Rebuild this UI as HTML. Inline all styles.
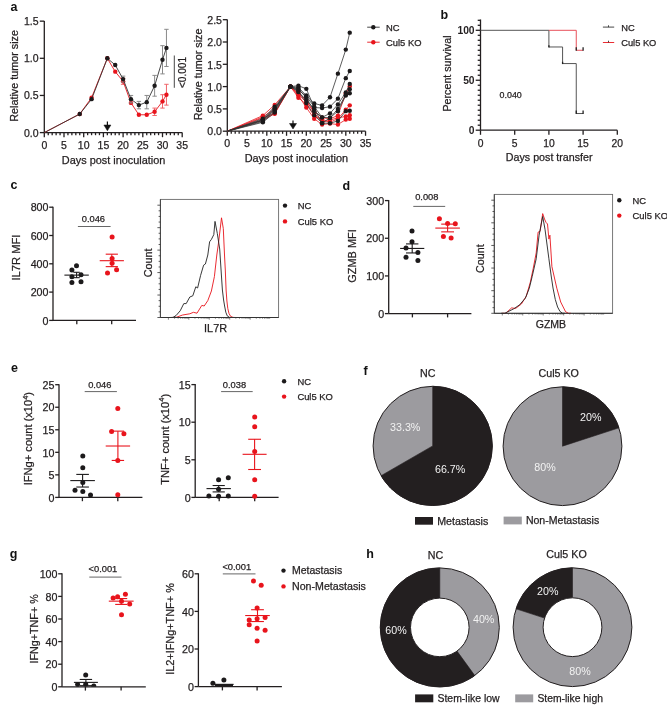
<!DOCTYPE html>
<html><head><meta charset="utf-8"><style>
html,body{margin:0;padding:0;background:#fff;}
svg{display:block;font-family:"Liberation Sans", sans-serif;will-change:transform;}
</style></head><body>
<svg width="667" height="712" viewBox="0 0 667 712">
<rect width="667" height="712" fill="#fff"/>
<text x="10.60" y="11.30" font-size="12.5" text-anchor="start" font-weight="bold" fill="#111">a</text>
<line x1="44.30" y1="21.00" x2="44.30" y2="132.60" stroke="#231f20" stroke-width="1.3"/>
<line x1="39.80" y1="132.60" x2="44.30" y2="132.60" stroke="#231f20" stroke-width="1.3"/>
<text x="38.60" y="136.60" font-size="10.5" text-anchor="end" font-weight="normal" fill="#231f20" stroke="#231f20" stroke-width="0.25">0.0</text>
<line x1="39.80" y1="95.45" x2="44.30" y2="95.45" stroke="#231f20" stroke-width="1.3"/>
<text x="38.60" y="99.45" font-size="10.5" text-anchor="end" font-weight="normal" fill="#231f20" stroke="#231f20" stroke-width="0.25">0.5</text>
<line x1="39.80" y1="58.30" x2="44.30" y2="58.30" stroke="#231f20" stroke-width="1.3"/>
<text x="38.60" y="62.30" font-size="10.5" text-anchor="end" font-weight="normal" fill="#231f20" stroke="#231f20" stroke-width="0.25">1.0</text>
<line x1="39.80" y1="21.15" x2="44.30" y2="21.15" stroke="#231f20" stroke-width="1.3"/>
<text x="38.60" y="25.15" font-size="10.5" text-anchor="end" font-weight="normal" fill="#231f20" stroke="#231f20" stroke-width="0.25">1.5</text>
<line x1="44.30" y1="132.60" x2="182.20" y2="132.60" stroke="#231f20" stroke-width="1.3"/>
<line x1="44.30" y1="132.60" x2="44.30" y2="137.20" stroke="#231f20" stroke-width="1.3"/>
<text x="44.30" y="148.80" font-size="10.5" text-anchor="middle" font-weight="normal" fill="#231f20" stroke="#231f20" stroke-width="0.25">0</text>
<line x1="48.24" y1="132.60" x2="48.24" y2="135.20" stroke="#231f20" stroke-width="1.3"/>
<line x1="52.18" y1="132.60" x2="52.18" y2="135.20" stroke="#231f20" stroke-width="1.3"/>
<line x1="56.12" y1="132.60" x2="56.12" y2="135.20" stroke="#231f20" stroke-width="1.3"/>
<line x1="60.06" y1="132.60" x2="60.06" y2="135.20" stroke="#231f20" stroke-width="1.3"/>
<line x1="64.00" y1="132.60" x2="64.00" y2="137.20" stroke="#231f20" stroke-width="1.3"/>
<text x="64.00" y="148.80" font-size="10.5" text-anchor="middle" font-weight="normal" fill="#231f20" stroke="#231f20" stroke-width="0.25">5</text>
<line x1="67.94" y1="132.60" x2="67.94" y2="135.20" stroke="#231f20" stroke-width="1.3"/>
<line x1="71.88" y1="132.60" x2="71.88" y2="135.20" stroke="#231f20" stroke-width="1.3"/>
<line x1="75.82" y1="132.60" x2="75.82" y2="135.20" stroke="#231f20" stroke-width="1.3"/>
<line x1="79.76" y1="132.60" x2="79.76" y2="135.20" stroke="#231f20" stroke-width="1.3"/>
<line x1="83.70" y1="132.60" x2="83.70" y2="137.20" stroke="#231f20" stroke-width="1.3"/>
<text x="83.70" y="148.80" font-size="10.5" text-anchor="middle" font-weight="normal" fill="#231f20" stroke="#231f20" stroke-width="0.25">10</text>
<line x1="87.64" y1="132.60" x2="87.64" y2="135.20" stroke="#231f20" stroke-width="1.3"/>
<line x1="91.58" y1="132.60" x2="91.58" y2="135.20" stroke="#231f20" stroke-width="1.3"/>
<line x1="95.52" y1="132.60" x2="95.52" y2="135.20" stroke="#231f20" stroke-width="1.3"/>
<line x1="99.46" y1="132.60" x2="99.46" y2="135.20" stroke="#231f20" stroke-width="1.3"/>
<line x1="103.40" y1="132.60" x2="103.40" y2="137.20" stroke="#231f20" stroke-width="1.3"/>
<text x="103.40" y="148.80" font-size="10.5" text-anchor="middle" font-weight="normal" fill="#231f20" stroke="#231f20" stroke-width="0.25">15</text>
<line x1="107.34" y1="132.60" x2="107.34" y2="135.20" stroke="#231f20" stroke-width="1.3"/>
<line x1="111.28" y1="132.60" x2="111.28" y2="135.20" stroke="#231f20" stroke-width="1.3"/>
<line x1="115.22" y1="132.60" x2="115.22" y2="135.20" stroke="#231f20" stroke-width="1.3"/>
<line x1="119.16" y1="132.60" x2="119.16" y2="135.20" stroke="#231f20" stroke-width="1.3"/>
<line x1="123.10" y1="132.60" x2="123.10" y2="137.20" stroke="#231f20" stroke-width="1.3"/>
<text x="123.10" y="148.80" font-size="10.5" text-anchor="middle" font-weight="normal" fill="#231f20" stroke="#231f20" stroke-width="0.25">20</text>
<line x1="127.04" y1="132.60" x2="127.04" y2="135.20" stroke="#231f20" stroke-width="1.3"/>
<line x1="130.98" y1="132.60" x2="130.98" y2="135.20" stroke="#231f20" stroke-width="1.3"/>
<line x1="134.92" y1="132.60" x2="134.92" y2="135.20" stroke="#231f20" stroke-width="1.3"/>
<line x1="138.86" y1="132.60" x2="138.86" y2="135.20" stroke="#231f20" stroke-width="1.3"/>
<line x1="142.80" y1="132.60" x2="142.80" y2="137.20" stroke="#231f20" stroke-width="1.3"/>
<text x="142.80" y="148.80" font-size="10.5" text-anchor="middle" font-weight="normal" fill="#231f20" stroke="#231f20" stroke-width="0.25">25</text>
<line x1="146.74" y1="132.60" x2="146.74" y2="135.20" stroke="#231f20" stroke-width="1.3"/>
<line x1="150.68" y1="132.60" x2="150.68" y2="135.20" stroke="#231f20" stroke-width="1.3"/>
<line x1="154.62" y1="132.60" x2="154.62" y2="135.20" stroke="#231f20" stroke-width="1.3"/>
<line x1="158.56" y1="132.60" x2="158.56" y2="135.20" stroke="#231f20" stroke-width="1.3"/>
<line x1="162.50" y1="132.60" x2="162.50" y2="137.20" stroke="#231f20" stroke-width="1.3"/>
<text x="162.50" y="148.80" font-size="10.5" text-anchor="middle" font-weight="normal" fill="#231f20" stroke="#231f20" stroke-width="0.25">30</text>
<line x1="166.44" y1="132.60" x2="166.44" y2="135.20" stroke="#231f20" stroke-width="1.3"/>
<line x1="170.38" y1="132.60" x2="170.38" y2="135.20" stroke="#231f20" stroke-width="1.3"/>
<line x1="174.32" y1="132.60" x2="174.32" y2="135.20" stroke="#231f20" stroke-width="1.3"/>
<line x1="178.26" y1="132.60" x2="178.26" y2="135.20" stroke="#231f20" stroke-width="1.3"/>
<line x1="182.20" y1="132.60" x2="182.20" y2="137.20" stroke="#231f20" stroke-width="1.3"/>
<text x="182.20" y="148.80" font-size="10.5" text-anchor="middle" font-weight="normal" fill="#231f20" stroke="#231f20" stroke-width="0.25">35</text>
<text x="113.60" y="163.60" font-size="10.9" text-anchor="middle" font-weight="normal" fill="#231f20" stroke="#231f20" stroke-width="0.25">Days post inoculation</text>
<text x="18.30" y="75.90" font-size="10.8" text-anchor="middle" font-weight="normal" fill="#231f20" stroke="#231f20" stroke-width="0.25" transform="rotate(-90 18.3 75.9)">Relative tumor size</text>
<line x1="123.10" y1="78.36" x2="123.10" y2="84.30" stroke="#f0646a" stroke-width="1.0"/>
<line x1="120.90" y1="78.36" x2="125.30" y2="78.36" stroke="#f0646a" stroke-width="1.0"/>
<line x1="120.90" y1="84.30" x2="125.30" y2="84.30" stroke="#f0646a" stroke-width="1.0"/>
<line x1="154.62" y1="108.08" x2="154.62" y2="115.51" stroke="#f0646a" stroke-width="1.0"/>
<line x1="152.42" y1="108.08" x2="156.82" y2="108.08" stroke="#f0646a" stroke-width="1.0"/>
<line x1="152.42" y1="115.51" x2="156.82" y2="115.51" stroke="#f0646a" stroke-width="1.0"/>
<line x1="162.50" y1="94.71" x2="162.50" y2="108.08" stroke="#f0646a" stroke-width="1.0"/>
<line x1="160.30" y1="94.71" x2="164.70" y2="94.71" stroke="#f0646a" stroke-width="1.0"/>
<line x1="160.30" y1="108.08" x2="164.70" y2="108.08" stroke="#f0646a" stroke-width="1.0"/>
<line x1="166.44" y1="84.30" x2="166.44" y2="105.11" stroke="#f0646a" stroke-width="1.0"/>
<line x1="164.24" y1="84.30" x2="168.64" y2="84.30" stroke="#f0646a" stroke-width="1.0"/>
<line x1="164.24" y1="105.11" x2="168.64" y2="105.11" stroke="#f0646a" stroke-width="1.0"/>
<path d="M44.30,132.60 L79.76,114.02 L91.58,97.68 L107.34,58.30 L115.22,71.67 L123.10,81.33 L130.98,102.88 L138.86,114.77 L146.74,114.77 L154.62,111.80 L162.50,101.39 L166.44,94.71" stroke="#e8141c" stroke-width="0.9" fill="none"/>
<circle cx="79.76" cy="114.02" r="2.2" fill="#e8141c"/>
<circle cx="91.58" cy="97.68" r="2.2" fill="#e8141c"/>
<circle cx="107.34" cy="58.30" r="2.2" fill="#e8141c"/>
<circle cx="115.22" cy="71.67" r="2.2" fill="#e8141c"/>
<circle cx="123.10" cy="81.33" r="2.2" fill="#e8141c"/>
<circle cx="130.98" cy="102.88" r="2.2" fill="#e8141c"/>
<circle cx="138.86" cy="114.77" r="2.2" fill="#e8141c"/>
<circle cx="146.74" cy="114.77" r="2.2" fill="#e8141c"/>
<circle cx="154.62" cy="111.80" r="2.2" fill="#e8141c"/>
<circle cx="162.50" cy="101.39" r="2.2" fill="#e8141c"/>
<circle cx="166.44" cy="94.71" r="2.2" fill="#e8141c"/>
<line x1="123.10" y1="76.13" x2="123.10" y2="82.08" stroke="#8a8a8a" stroke-width="1.0"/>
<line x1="120.90" y1="76.13" x2="125.30" y2="76.13" stroke="#8a8a8a" stroke-width="1.0"/>
<line x1="120.90" y1="82.08" x2="125.30" y2="82.08" stroke="#8a8a8a" stroke-width="1.0"/>
<line x1="130.98" y1="95.45" x2="130.98" y2="102.88" stroke="#8a8a8a" stroke-width="1.0"/>
<line x1="128.78" y1="95.45" x2="133.18" y2="95.45" stroke="#8a8a8a" stroke-width="1.0"/>
<line x1="128.78" y1="102.88" x2="133.18" y2="102.88" stroke="#8a8a8a" stroke-width="1.0"/>
<line x1="138.86" y1="101.39" x2="138.86" y2="108.82" stroke="#8a8a8a" stroke-width="1.0"/>
<line x1="136.66" y1="101.39" x2="141.06" y2="101.39" stroke="#8a8a8a" stroke-width="1.0"/>
<line x1="136.66" y1="108.82" x2="141.06" y2="108.82" stroke="#8a8a8a" stroke-width="1.0"/>
<line x1="146.74" y1="95.45" x2="146.74" y2="108.82" stroke="#8a8a8a" stroke-width="1.0"/>
<line x1="144.54" y1="95.45" x2="148.94" y2="95.45" stroke="#8a8a8a" stroke-width="1.0"/>
<line x1="144.54" y1="108.82" x2="148.94" y2="108.82" stroke="#8a8a8a" stroke-width="1.0"/>
<line x1="154.62" y1="75.39" x2="154.62" y2="96.19" stroke="#8a8a8a" stroke-width="1.0"/>
<line x1="152.42" y1="75.39" x2="156.82" y2="75.39" stroke="#8a8a8a" stroke-width="1.0"/>
<line x1="152.42" y1="96.19" x2="156.82" y2="96.19" stroke="#8a8a8a" stroke-width="1.0"/>
<line x1="162.50" y1="45.67" x2="162.50" y2="73.90" stroke="#8a8a8a" stroke-width="1.0"/>
<line x1="160.30" y1="45.67" x2="164.70" y2="45.67" stroke="#8a8a8a" stroke-width="1.0"/>
<line x1="160.30" y1="73.90" x2="164.70" y2="73.90" stroke="#8a8a8a" stroke-width="1.0"/>
<line x1="166.44" y1="29.32" x2="166.44" y2="66.47" stroke="#8a8a8a" stroke-width="1.0"/>
<line x1="164.24" y1="29.32" x2="168.64" y2="29.32" stroke="#8a8a8a" stroke-width="1.0"/>
<line x1="164.24" y1="66.47" x2="168.64" y2="66.47" stroke="#8a8a8a" stroke-width="1.0"/>
<path d="M44.30,132.60 L79.76,114.02 L91.58,99.16 L107.34,58.30 L115.22,64.99 L123.10,79.10 L130.98,99.16 L138.86,105.11 L146.74,102.14 L154.62,85.79 L162.50,59.79 L166.44,47.90" stroke="#333" stroke-width="0.9" fill="none"/>
<circle cx="79.76" cy="114.02" r="2.2" fill="#1c1a1b"/>
<circle cx="91.58" cy="99.16" r="2.2" fill="#1c1a1b"/>
<circle cx="107.34" cy="58.30" r="2.2" fill="#1c1a1b"/>
<circle cx="115.22" cy="64.99" r="2.2" fill="#1c1a1b"/>
<circle cx="123.10" cy="79.10" r="2.2" fill="#1c1a1b"/>
<circle cx="130.98" cy="99.16" r="2.2" fill="#1c1a1b"/>
<circle cx="138.86" cy="105.11" r="2.2" fill="#1c1a1b"/>
<circle cx="146.74" cy="102.14" r="2.2" fill="#1c1a1b"/>
<circle cx="154.62" cy="85.79" r="2.2" fill="#1c1a1b"/>
<circle cx="162.50" cy="59.79" r="2.2" fill="#1c1a1b"/>
<circle cx="166.44" cy="47.90" r="2.2" fill="#1c1a1b"/>
<line x1="107.40" y1="121.50" x2="107.40" y2="127.00" stroke="#111" stroke-width="1.2"/>
<path d="M103.9,125 L110.9,125 L107.4,130.8 Z" stroke="#111" stroke-width="0.5" fill="#111"/>
<line x1="174.30" y1="55.50" x2="174.30" y2="87.80" stroke="#333" stroke-width="0.9"/>
<text x="186.40" y="72.50" font-size="10.1" text-anchor="middle" font-weight="normal" fill="#231f20" stroke="#231f20" stroke-width="0.25" transform="rotate(-90 186.4 72.5)">&lt;0.001</text>
<line x1="227.30" y1="19.60" x2="227.30" y2="131.20" stroke="#231f20" stroke-width="1.3"/>
<line x1="222.80" y1="131.20" x2="227.30" y2="131.20" stroke="#231f20" stroke-width="1.3"/>
<text x="222.00" y="135.40" font-size="10.6" text-anchor="end" font-weight="normal" fill="#231f20" stroke="#231f20" stroke-width="0.25">0.0</text>
<line x1="222.80" y1="108.90" x2="227.30" y2="108.90" stroke="#231f20" stroke-width="1.3"/>
<text x="222.00" y="113.10" font-size="10.6" text-anchor="end" font-weight="normal" fill="#231f20" stroke="#231f20" stroke-width="0.25">0.5</text>
<line x1="222.80" y1="86.60" x2="227.30" y2="86.60" stroke="#231f20" stroke-width="1.3"/>
<text x="222.00" y="90.80" font-size="10.6" text-anchor="end" font-weight="normal" fill="#231f20" stroke="#231f20" stroke-width="0.25">1.0</text>
<line x1="222.80" y1="64.30" x2="227.30" y2="64.30" stroke="#231f20" stroke-width="1.3"/>
<text x="222.00" y="68.50" font-size="10.6" text-anchor="end" font-weight="normal" fill="#231f20" stroke="#231f20" stroke-width="0.25">1.5</text>
<line x1="222.80" y1="42.00" x2="227.30" y2="42.00" stroke="#231f20" stroke-width="1.3"/>
<text x="222.00" y="46.20" font-size="10.6" text-anchor="end" font-weight="normal" fill="#231f20" stroke="#231f20" stroke-width="0.25">2.0</text>
<line x1="222.80" y1="19.70" x2="227.30" y2="19.70" stroke="#231f20" stroke-width="1.3"/>
<text x="222.00" y="23.90" font-size="10.6" text-anchor="end" font-weight="normal" fill="#231f20" stroke="#231f20" stroke-width="0.25">2.5</text>
<line x1="227.30" y1="131.20" x2="365.55" y2="131.20" stroke="#231f20" stroke-width="1.3"/>
<line x1="227.30" y1="131.20" x2="227.30" y2="135.80" stroke="#231f20" stroke-width="1.3"/>
<text x="227.30" y="147.40" font-size="10.6" text-anchor="middle" font-weight="normal" fill="#231f20" stroke="#231f20" stroke-width="0.25">0</text>
<line x1="231.25" y1="131.20" x2="231.25" y2="133.80" stroke="#231f20" stroke-width="1.3"/>
<line x1="235.20" y1="131.20" x2="235.20" y2="133.80" stroke="#231f20" stroke-width="1.3"/>
<line x1="239.15" y1="131.20" x2="239.15" y2="133.80" stroke="#231f20" stroke-width="1.3"/>
<line x1="243.10" y1="131.20" x2="243.10" y2="133.80" stroke="#231f20" stroke-width="1.3"/>
<line x1="247.05" y1="131.20" x2="247.05" y2="135.80" stroke="#231f20" stroke-width="1.3"/>
<text x="247.05" y="147.40" font-size="10.6" text-anchor="middle" font-weight="normal" fill="#231f20" stroke="#231f20" stroke-width="0.25">5</text>
<line x1="251.00" y1="131.20" x2="251.00" y2="133.80" stroke="#231f20" stroke-width="1.3"/>
<line x1="254.95" y1="131.20" x2="254.95" y2="133.80" stroke="#231f20" stroke-width="1.3"/>
<line x1="258.90" y1="131.20" x2="258.90" y2="133.80" stroke="#231f20" stroke-width="1.3"/>
<line x1="262.85" y1="131.20" x2="262.85" y2="133.80" stroke="#231f20" stroke-width="1.3"/>
<line x1="266.80" y1="131.20" x2="266.80" y2="135.80" stroke="#231f20" stroke-width="1.3"/>
<text x="266.80" y="147.40" font-size="10.6" text-anchor="middle" font-weight="normal" fill="#231f20" stroke="#231f20" stroke-width="0.25">10</text>
<line x1="270.75" y1="131.20" x2="270.75" y2="133.80" stroke="#231f20" stroke-width="1.3"/>
<line x1="274.70" y1="131.20" x2="274.70" y2="133.80" stroke="#231f20" stroke-width="1.3"/>
<line x1="278.65" y1="131.20" x2="278.65" y2="133.80" stroke="#231f20" stroke-width="1.3"/>
<line x1="282.60" y1="131.20" x2="282.60" y2="133.80" stroke="#231f20" stroke-width="1.3"/>
<line x1="286.55" y1="131.20" x2="286.55" y2="135.80" stroke="#231f20" stroke-width="1.3"/>
<text x="286.55" y="147.40" font-size="10.6" text-anchor="middle" font-weight="normal" fill="#231f20" stroke="#231f20" stroke-width="0.25">15</text>
<line x1="290.50" y1="131.20" x2="290.50" y2="133.80" stroke="#231f20" stroke-width="1.3"/>
<line x1="294.45" y1="131.20" x2="294.45" y2="133.80" stroke="#231f20" stroke-width="1.3"/>
<line x1="298.40" y1="131.20" x2="298.40" y2="133.80" stroke="#231f20" stroke-width="1.3"/>
<line x1="302.35" y1="131.20" x2="302.35" y2="133.80" stroke="#231f20" stroke-width="1.3"/>
<line x1="306.30" y1="131.20" x2="306.30" y2="135.80" stroke="#231f20" stroke-width="1.3"/>
<text x="306.30" y="147.40" font-size="10.6" text-anchor="middle" font-weight="normal" fill="#231f20" stroke="#231f20" stroke-width="0.25">20</text>
<line x1="310.25" y1="131.20" x2="310.25" y2="133.80" stroke="#231f20" stroke-width="1.3"/>
<line x1="314.20" y1="131.20" x2="314.20" y2="133.80" stroke="#231f20" stroke-width="1.3"/>
<line x1="318.15" y1="131.20" x2="318.15" y2="133.80" stroke="#231f20" stroke-width="1.3"/>
<line x1="322.10" y1="131.20" x2="322.10" y2="133.80" stroke="#231f20" stroke-width="1.3"/>
<line x1="326.05" y1="131.20" x2="326.05" y2="135.80" stroke="#231f20" stroke-width="1.3"/>
<text x="326.05" y="147.40" font-size="10.6" text-anchor="middle" font-weight="normal" fill="#231f20" stroke="#231f20" stroke-width="0.25">25</text>
<line x1="330.00" y1="131.20" x2="330.00" y2="133.80" stroke="#231f20" stroke-width="1.3"/>
<line x1="333.95" y1="131.20" x2="333.95" y2="133.80" stroke="#231f20" stroke-width="1.3"/>
<line x1="337.90" y1="131.20" x2="337.90" y2="133.80" stroke="#231f20" stroke-width="1.3"/>
<line x1="341.85" y1="131.20" x2="341.85" y2="133.80" stroke="#231f20" stroke-width="1.3"/>
<line x1="345.80" y1="131.20" x2="345.80" y2="135.80" stroke="#231f20" stroke-width="1.3"/>
<text x="345.80" y="147.40" font-size="10.6" text-anchor="middle" font-weight="normal" fill="#231f20" stroke="#231f20" stroke-width="0.25">30</text>
<line x1="349.75" y1="131.20" x2="349.75" y2="133.80" stroke="#231f20" stroke-width="1.3"/>
<line x1="353.70" y1="131.20" x2="353.70" y2="133.80" stroke="#231f20" stroke-width="1.3"/>
<line x1="357.65" y1="131.20" x2="357.65" y2="133.80" stroke="#231f20" stroke-width="1.3"/>
<line x1="361.60" y1="131.20" x2="361.60" y2="133.80" stroke="#231f20" stroke-width="1.3"/>
<line x1="365.55" y1="131.20" x2="365.55" y2="135.80" stroke="#231f20" stroke-width="1.3"/>
<text x="365.55" y="147.40" font-size="10.6" text-anchor="middle" font-weight="normal" fill="#231f20" stroke="#231f20" stroke-width="0.25">35</text>
<text x="296.40" y="162.20" font-size="10.9" text-anchor="middle" font-weight="normal" fill="#231f20" stroke="#231f20" stroke-width="0.25">Days post inoculation</text>
<text x="202.00" y="74.40" font-size="10.8" text-anchor="middle" font-weight="normal" fill="#231f20" stroke="#231f20" stroke-width="0.25" transform="rotate(-90 202.0 74.4)">Relative tumor size</text>
<path d="M227.30,131.20 L262.85,115.59 L274.70,104.89 L290.50,86.60 L298.40,95.52 L306.30,107.56 L314.20,118.71 L322.10,124.51 L330.00,123.62 L337.90,124.51 L345.80,119.60 L349.75,118.71" stroke="#e8141c" stroke-width="0.8" fill="none"/>
<circle cx="262.85" cy="115.59" r="2.2" fill="#e8141c"/>
<circle cx="274.70" cy="104.89" r="2.2" fill="#e8141c"/>
<circle cx="290.50" cy="86.60" r="2.2" fill="#e8141c"/>
<circle cx="298.40" cy="95.52" r="2.2" fill="#e8141c"/>
<circle cx="306.30" cy="107.56" r="2.2" fill="#e8141c"/>
<circle cx="314.20" cy="118.71" r="2.2" fill="#e8141c"/>
<circle cx="322.10" cy="124.51" r="2.2" fill="#e8141c"/>
<circle cx="330.00" cy="123.62" r="2.2" fill="#e8141c"/>
<circle cx="337.90" cy="124.51" r="2.2" fill="#e8141c"/>
<circle cx="345.80" cy="119.60" r="2.2" fill="#e8141c"/>
<circle cx="349.75" cy="118.71" r="2.2" fill="#e8141c"/>
<path d="M227.30,131.20 L262.85,117.82 L274.70,113.36 L290.50,86.60 L298.40,97.75 L306.30,104.44 L314.20,115.59 L322.10,119.60 L330.00,122.28 L337.90,118.71 L345.80,109.79 L349.75,105.33" stroke="#e8141c" stroke-width="0.8" fill="none"/>
<circle cx="262.85" cy="117.82" r="2.2" fill="#e8141c"/>
<circle cx="274.70" cy="113.36" r="2.2" fill="#e8141c"/>
<circle cx="290.50" cy="86.60" r="2.2" fill="#e8141c"/>
<circle cx="298.40" cy="97.75" r="2.2" fill="#e8141c"/>
<circle cx="306.30" cy="104.44" r="2.2" fill="#e8141c"/>
<circle cx="314.20" cy="115.59" r="2.2" fill="#e8141c"/>
<circle cx="322.10" cy="119.60" r="2.2" fill="#e8141c"/>
<circle cx="330.00" cy="122.28" r="2.2" fill="#e8141c"/>
<circle cx="337.90" cy="118.71" r="2.2" fill="#e8141c"/>
<circle cx="345.80" cy="109.79" r="2.2" fill="#e8141c"/>
<circle cx="349.75" cy="105.33" r="2.2" fill="#e8141c"/>
<path d="M227.30,131.20 L262.85,120.05 L274.70,113.81 L290.50,86.60 L298.40,93.29 L306.30,99.98 L314.20,113.36 L322.10,122.28 L330.00,120.05 L337.90,117.82 L345.80,116.48 L349.75,115.14" stroke="#e8141c" stroke-width="0.8" fill="none"/>
<circle cx="262.85" cy="120.05" r="2.2" fill="#e8141c"/>
<circle cx="274.70" cy="113.81" r="2.2" fill="#e8141c"/>
<circle cx="290.50" cy="86.60" r="2.2" fill="#e8141c"/>
<circle cx="298.40" cy="93.29" r="2.2" fill="#e8141c"/>
<circle cx="306.30" cy="99.98" r="2.2" fill="#e8141c"/>
<circle cx="314.20" cy="113.36" r="2.2" fill="#e8141c"/>
<circle cx="322.10" cy="122.28" r="2.2" fill="#e8141c"/>
<circle cx="330.00" cy="120.05" r="2.2" fill="#e8141c"/>
<circle cx="337.90" cy="117.82" r="2.2" fill="#e8141c"/>
<circle cx="345.80" cy="116.48" r="2.2" fill="#e8141c"/>
<circle cx="349.75" cy="115.14" r="2.2" fill="#e8141c"/>
<path d="M227.30,131.20 L262.85,116.93 L274.70,108.90 L290.50,86.60 L298.40,94.63 L306.30,102.21 L314.20,111.13 L322.10,117.82 L330.00,118.71 L337.90,115.59 L345.80,93.29 L349.75,86.15" stroke="#e8141c" stroke-width="0.8" fill="none"/>
<circle cx="262.85" cy="116.93" r="2.2" fill="#e8141c"/>
<circle cx="274.70" cy="108.90" r="2.2" fill="#e8141c"/>
<circle cx="290.50" cy="86.60" r="2.2" fill="#e8141c"/>
<circle cx="298.40" cy="94.63" r="2.2" fill="#e8141c"/>
<circle cx="306.30" cy="102.21" r="2.2" fill="#e8141c"/>
<circle cx="314.20" cy="111.13" r="2.2" fill="#e8141c"/>
<circle cx="322.10" cy="117.82" r="2.2" fill="#e8141c"/>
<circle cx="330.00" cy="118.71" r="2.2" fill="#e8141c"/>
<circle cx="337.90" cy="115.59" r="2.2" fill="#e8141c"/>
<circle cx="345.80" cy="93.29" r="2.2" fill="#e8141c"/>
<circle cx="349.75" cy="86.15" r="2.2" fill="#e8141c"/>
<path d="M227.30,131.20 L262.85,118.71 L274.70,106.67 L290.50,86.60 L298.40,87.49 L306.30,95.52 L314.20,103.55 L322.10,105.33 L330.00,97.30 L337.90,73.67 L345.80,49.58 L349.75,32.63" stroke="#333" stroke-width="0.8" fill="none"/>
<circle cx="262.85" cy="118.71" r="2.2" fill="#1c1a1b"/>
<circle cx="274.70" cy="106.67" r="2.2" fill="#1c1a1b"/>
<circle cx="290.50" cy="86.60" r="2.2" fill="#1c1a1b"/>
<circle cx="298.40" cy="87.49" r="2.2" fill="#1c1a1b"/>
<circle cx="306.30" cy="95.52" r="2.2" fill="#1c1a1b"/>
<circle cx="314.20" cy="103.55" r="2.2" fill="#1c1a1b"/>
<circle cx="322.10" cy="105.33" r="2.2" fill="#1c1a1b"/>
<circle cx="330.00" cy="97.30" r="2.2" fill="#1c1a1b"/>
<circle cx="337.90" cy="73.67" r="2.2" fill="#1c1a1b"/>
<circle cx="345.80" cy="49.58" r="2.2" fill="#1c1a1b"/>
<circle cx="349.75" cy="32.63" r="2.2" fill="#1c1a1b"/>
<path d="M227.30,131.20 L262.85,120.05 L274.70,108.90 L290.50,86.60 L298.40,85.71 L306.30,88.83 L314.20,107.56 L322.10,108.01 L330.00,106.67 L337.90,98.64 L345.80,78.13 L349.75,70.99" stroke="#333" stroke-width="0.8" fill="none"/>
<circle cx="262.85" cy="120.05" r="2.2" fill="#1c1a1b"/>
<circle cx="274.70" cy="108.90" r="2.2" fill="#1c1a1b"/>
<circle cx="290.50" cy="86.60" r="2.2" fill="#1c1a1b"/>
<circle cx="298.40" cy="85.71" r="2.2" fill="#1c1a1b"/>
<circle cx="306.30" cy="88.83" r="2.2" fill="#1c1a1b"/>
<circle cx="314.20" cy="107.56" r="2.2" fill="#1c1a1b"/>
<circle cx="322.10" cy="108.01" r="2.2" fill="#1c1a1b"/>
<circle cx="330.00" cy="106.67" r="2.2" fill="#1c1a1b"/>
<circle cx="337.90" cy="98.64" r="2.2" fill="#1c1a1b"/>
<circle cx="345.80" cy="78.13" r="2.2" fill="#1c1a1b"/>
<circle cx="349.75" cy="70.99" r="2.2" fill="#1c1a1b"/>
<path d="M227.30,131.20 L262.85,121.39 L274.70,111.13 L290.50,86.60 L298.40,88.83 L306.30,97.75 L314.20,111.13 L322.10,117.37 L330.00,113.36 L337.90,104.44 L345.80,92.40 L349.75,83.92" stroke="#333" stroke-width="0.8" fill="none"/>
<circle cx="262.85" cy="121.39" r="2.2" fill="#1c1a1b"/>
<circle cx="274.70" cy="111.13" r="2.2" fill="#1c1a1b"/>
<circle cx="290.50" cy="86.60" r="2.2" fill="#1c1a1b"/>
<circle cx="298.40" cy="88.83" r="2.2" fill="#1c1a1b"/>
<circle cx="306.30" cy="97.75" r="2.2" fill="#1c1a1b"/>
<circle cx="314.20" cy="111.13" r="2.2" fill="#1c1a1b"/>
<circle cx="322.10" cy="117.37" r="2.2" fill="#1c1a1b"/>
<circle cx="330.00" cy="113.36" r="2.2" fill="#1c1a1b"/>
<circle cx="337.90" cy="104.44" r="2.2" fill="#1c1a1b"/>
<circle cx="345.80" cy="92.40" r="2.2" fill="#1c1a1b"/>
<circle cx="349.75" cy="83.92" r="2.2" fill="#1c1a1b"/>
<path d="M227.30,131.20 L262.85,122.28 L274.70,112.47 L290.50,86.60 L298.40,91.06 L306.30,103.10 L314.20,115.14 L322.10,123.17 L330.00,117.82 L337.90,108.90 L345.80,94.63 L349.75,89.28" stroke="#333" stroke-width="0.8" fill="none"/>
<circle cx="262.85" cy="122.28" r="2.2" fill="#1c1a1b"/>
<circle cx="274.70" cy="112.47" r="2.2" fill="#1c1a1b"/>
<circle cx="290.50" cy="86.60" r="2.2" fill="#1c1a1b"/>
<circle cx="298.40" cy="91.06" r="2.2" fill="#1c1a1b"/>
<circle cx="306.30" cy="103.10" r="2.2" fill="#1c1a1b"/>
<circle cx="314.20" cy="115.14" r="2.2" fill="#1c1a1b"/>
<circle cx="322.10" cy="123.17" r="2.2" fill="#1c1a1b"/>
<circle cx="330.00" cy="117.82" r="2.2" fill="#1c1a1b"/>
<circle cx="337.90" cy="108.90" r="2.2" fill="#1c1a1b"/>
<circle cx="345.80" cy="94.63" r="2.2" fill="#1c1a1b"/>
<circle cx="349.75" cy="89.28" r="2.2" fill="#1c1a1b"/>
<path d="M227.30,131.20 L262.85,120.50 L274.70,109.79 L290.50,86.60 L298.40,91.95 L306.30,99.98 L314.20,108.90 L322.10,123.17 L330.00,123.17 L337.90,120.94 L345.80,111.13 L349.75,110.68" stroke="#333" stroke-width="0.8" fill="none"/>
<circle cx="262.85" cy="120.50" r="2.2" fill="#1c1a1b"/>
<circle cx="274.70" cy="109.79" r="2.2" fill="#1c1a1b"/>
<circle cx="290.50" cy="86.60" r="2.2" fill="#1c1a1b"/>
<circle cx="298.40" cy="91.95" r="2.2" fill="#1c1a1b"/>
<circle cx="306.30" cy="99.98" r="2.2" fill="#1c1a1b"/>
<circle cx="314.20" cy="108.90" r="2.2" fill="#1c1a1b"/>
<circle cx="322.10" cy="123.17" r="2.2" fill="#1c1a1b"/>
<circle cx="330.00" cy="123.17" r="2.2" fill="#1c1a1b"/>
<circle cx="337.90" cy="120.94" r="2.2" fill="#1c1a1b"/>
<circle cx="345.80" cy="111.13" r="2.2" fill="#1c1a1b"/>
<circle cx="349.75" cy="110.68" r="2.2" fill="#1c1a1b"/>
<path d="M227.30,131.20 L262.85,119.60 L274.70,108.01 L290.50,86.60 L298.40,89.72 L306.30,96.41 L314.20,106.67 L322.10,117.37 L330.00,117.82 L337.90,111.13 L345.80,95.52 L349.75,93.29" stroke="#333" stroke-width="0.8" fill="none"/>
<circle cx="262.85" cy="119.60" r="2.2" fill="#1c1a1b"/>
<circle cx="274.70" cy="108.01" r="2.2" fill="#1c1a1b"/>
<circle cx="290.50" cy="86.60" r="2.2" fill="#1c1a1b"/>
<circle cx="298.40" cy="89.72" r="2.2" fill="#1c1a1b"/>
<circle cx="306.30" cy="96.41" r="2.2" fill="#1c1a1b"/>
<circle cx="314.20" cy="106.67" r="2.2" fill="#1c1a1b"/>
<circle cx="322.10" cy="117.37" r="2.2" fill="#1c1a1b"/>
<circle cx="330.00" cy="117.82" r="2.2" fill="#1c1a1b"/>
<circle cx="337.90" cy="111.13" r="2.2" fill="#1c1a1b"/>
<circle cx="345.80" cy="95.52" r="2.2" fill="#1c1a1b"/>
<circle cx="349.75" cy="93.29" r="2.2" fill="#1c1a1b"/>
<line x1="293.00" y1="120.50" x2="293.00" y2="125.50" stroke="#111" stroke-width="1.2"/>
<path d="M289.5,123.5 L296.5,123.5 L293,129 Z" stroke="#111" stroke-width="0.5" fill="#111"/>
<line x1="367.20" y1="27.20" x2="379.70" y2="27.20" stroke="#333" stroke-width="0.9"/>
<circle cx="373.30" cy="27.20" r="2.2" fill="#1c1a1b"/>
<line x1="367.20" y1="42.20" x2="379.70" y2="42.20" stroke="#e8141c" stroke-width="0.9"/>
<circle cx="373.30" cy="42.20" r="2.2" fill="#e8141c"/>
<text x="386.00" y="30.60" font-size="9.4" text-anchor="start" font-weight="normal" fill="#231f20" stroke="#231f20" stroke-width="0.25">NC</text>
<text x="386.00" y="45.60" font-size="9.4" text-anchor="start" font-weight="normal" fill="#231f20" stroke="#231f20" stroke-width="0.25">Cul5 KO</text>
<text x="440.50" y="18.90" font-size="12.5" text-anchor="start" font-weight="bold" fill="#111">b</text>
<line x1="480.50" y1="19.50" x2="480.50" y2="130.20" stroke="#231f20" stroke-width="1.3"/>
<line x1="475.70" y1="130.20" x2="480.50" y2="130.20" stroke="#231f20" stroke-width="1.3"/>
<line x1="477.70" y1="125.20" x2="480.50" y2="125.20" stroke="#231f20" stroke-width="1.3"/>
<line x1="477.70" y1="120.21" x2="480.50" y2="120.21" stroke="#231f20" stroke-width="1.3"/>
<line x1="477.70" y1="115.21" x2="480.50" y2="115.21" stroke="#231f20" stroke-width="1.3"/>
<line x1="477.70" y1="110.22" x2="480.50" y2="110.22" stroke="#231f20" stroke-width="1.3"/>
<line x1="477.70" y1="105.22" x2="480.50" y2="105.22" stroke="#231f20" stroke-width="1.3"/>
<line x1="477.70" y1="100.23" x2="480.50" y2="100.23" stroke="#231f20" stroke-width="1.3"/>
<line x1="477.70" y1="95.23" x2="480.50" y2="95.23" stroke="#231f20" stroke-width="1.3"/>
<line x1="477.70" y1="90.24" x2="480.50" y2="90.24" stroke="#231f20" stroke-width="1.3"/>
<line x1="477.70" y1="85.24" x2="480.50" y2="85.24" stroke="#231f20" stroke-width="1.3"/>
<line x1="475.70" y1="80.25" x2="480.50" y2="80.25" stroke="#231f20" stroke-width="1.3"/>
<line x1="477.70" y1="75.25" x2="480.50" y2="75.25" stroke="#231f20" stroke-width="1.3"/>
<line x1="477.70" y1="70.26" x2="480.50" y2="70.26" stroke="#231f20" stroke-width="1.3"/>
<line x1="477.70" y1="65.26" x2="480.50" y2="65.26" stroke="#231f20" stroke-width="1.3"/>
<line x1="477.70" y1="60.27" x2="480.50" y2="60.27" stroke="#231f20" stroke-width="1.3"/>
<line x1="477.70" y1="55.27" x2="480.50" y2="55.27" stroke="#231f20" stroke-width="1.3"/>
<line x1="477.70" y1="50.28" x2="480.50" y2="50.28" stroke="#231f20" stroke-width="1.3"/>
<line x1="477.70" y1="45.28" x2="480.50" y2="45.28" stroke="#231f20" stroke-width="1.3"/>
<line x1="477.70" y1="40.29" x2="480.50" y2="40.29" stroke="#231f20" stroke-width="1.3"/>
<line x1="477.70" y1="35.29" x2="480.50" y2="35.29" stroke="#231f20" stroke-width="1.3"/>
<line x1="475.70" y1="30.30" x2="480.50" y2="30.30" stroke="#231f20" stroke-width="1.3"/>
<line x1="477.70" y1="25.30" x2="480.50" y2="25.30" stroke="#231f20" stroke-width="1.3"/>
<line x1="477.70" y1="20.31" x2="480.50" y2="20.31" stroke="#231f20" stroke-width="1.3"/>
<text x="474.60" y="133.90" font-size="10.3" text-anchor="end" font-weight="bold" fill="#231f20">0</text>
<text x="474.60" y="83.95" font-size="10.3" text-anchor="end" font-weight="bold" fill="#231f20">50</text>
<text x="474.60" y="34.00" font-size="10.3" text-anchor="end" font-weight="bold" fill="#231f20">100</text>
<line x1="480.50" y1="130.20" x2="617.30" y2="130.20" stroke="#231f20" stroke-width="1.3"/>
<line x1="480.50" y1="130.20" x2="480.50" y2="134.80" stroke="#231f20" stroke-width="1.3"/>
<text x="480.50" y="146.50" font-size="10.3" text-anchor="middle" font-weight="normal" fill="#231f20" stroke="#231f20" stroke-width="0.25">0</text>
<line x1="514.70" y1="130.20" x2="514.70" y2="134.80" stroke="#231f20" stroke-width="1.3"/>
<text x="514.70" y="146.50" font-size="10.3" text-anchor="middle" font-weight="normal" fill="#231f20" stroke="#231f20" stroke-width="0.25">5</text>
<line x1="548.90" y1="130.20" x2="548.90" y2="134.80" stroke="#231f20" stroke-width="1.3"/>
<text x="548.90" y="146.50" font-size="10.3" text-anchor="middle" font-weight="normal" fill="#231f20" stroke="#231f20" stroke-width="0.25">10</text>
<line x1="583.10" y1="130.20" x2="583.10" y2="134.80" stroke="#231f20" stroke-width="1.3"/>
<text x="583.10" y="146.50" font-size="10.3" text-anchor="middle" font-weight="normal" fill="#231f20" stroke="#231f20" stroke-width="0.25">15</text>
<line x1="617.30" y1="130.20" x2="617.30" y2="134.80" stroke="#231f20" stroke-width="1.3"/>
<text x="617.30" y="146.50" font-size="10.3" text-anchor="middle" font-weight="normal" fill="#231f20" stroke="#231f20" stroke-width="0.25">20</text>
<text x="549.20" y="161.20" font-size="10.7" text-anchor="middle" font-weight="normal" fill="#231f20" stroke="#231f20" stroke-width="0.25">Days post transfer</text>
<text x="451.20" y="73.50" font-size="10.7" text-anchor="middle" font-weight="normal" fill="#231f20" stroke="#231f20" stroke-width="0.25" transform="rotate(-90 451.2 73.5)">Percent survival</text>
<text x="499.60" y="98.20" font-size="8.9" text-anchor="start" font-weight="normal" fill="#231f20" stroke="#231f20" stroke-width="0.25">0.040</text>
<path d="M480.5,30.299999999999983 L548.9,30.299999999999983 L548.9,46.983299999999986 L562.58,46.983299999999986 L562.58,63.56669999999998 L576.26,63.56669999999998 L576.26,113.51669999999999 L583.1,113.51669999999999" stroke="#555" stroke-width="1.0" fill="none"/>
<path d="M548.9,30.299999999999983 L576.26,30.299999999999983 L576.26,50.27999999999999 L583.1,50.27999999999999" stroke="#e8505a" stroke-width="1.0" fill="none"/>
<line x1="548.90" y1="47.48" x2="548.90" y2="45.18" stroke="#222" stroke-width="1.3"/>
<line x1="562.58" y1="64.07" x2="562.58" y2="61.77" stroke="#222" stroke-width="1.3"/>
<line x1="576.26" y1="114.02" x2="576.26" y2="110.52" stroke="#222" stroke-width="1.3"/>
<line x1="583.10" y1="114.02" x2="583.10" y2="110.52" stroke="#222" stroke-width="1.3"/>
<line x1="576.26" y1="50.78" x2="576.26" y2="47.28" stroke="#222" stroke-width="1.3"/>
<line x1="583.10" y1="50.78" x2="583.10" y2="47.28" stroke="#222" stroke-width="1.3"/>
<line x1="602.90" y1="27.10" x2="614.20" y2="27.10" stroke="#333" stroke-width="0.9"/>
<line x1="608.50" y1="25.30" x2="608.50" y2="27.10" stroke="#333" stroke-width="0.9"/>
<line x1="602.90" y1="42.50" x2="614.20" y2="42.50" stroke="#e8141c" stroke-width="0.9"/>
<line x1="608.50" y1="40.70" x2="608.50" y2="42.50" stroke="#333" stroke-width="0.9"/>
<text x="621.20" y="30.60" font-size="9.3" text-anchor="start" font-weight="normal" fill="#231f20" stroke="#231f20" stroke-width="0.25">NC</text>
<text x="621.20" y="46.00" font-size="9.3" text-anchor="start" font-weight="normal" fill="#231f20" stroke="#231f20" stroke-width="0.25">Cul5 KO</text>
<text x="10.40" y="189.40" font-size="12.5" text-anchor="start" font-weight="bold" fill="#111">c</text>
<line x1="53.00" y1="206.70" x2="53.00" y2="320.40" stroke="#231f20" stroke-width="1.3"/>
<line x1="49.20" y1="320.40" x2="53.00" y2="320.40" stroke="#231f20" stroke-width="1.3"/>
<text x="48.50" y="324.60" font-size="10.7" text-anchor="end" font-weight="normal" fill="#231f20" stroke="#231f20" stroke-width="0.25">0</text>
<line x1="49.20" y1="292.10" x2="53.00" y2="292.10" stroke="#231f20" stroke-width="1.3"/>
<text x="48.50" y="296.30" font-size="10.7" text-anchor="end" font-weight="normal" fill="#231f20" stroke="#231f20" stroke-width="0.25">200</text>
<line x1="49.20" y1="263.80" x2="53.00" y2="263.80" stroke="#231f20" stroke-width="1.3"/>
<text x="48.50" y="268.00" font-size="10.7" text-anchor="end" font-weight="normal" fill="#231f20" stroke="#231f20" stroke-width="0.25">400</text>
<line x1="49.20" y1="235.50" x2="53.00" y2="235.50" stroke="#231f20" stroke-width="1.3"/>
<text x="48.50" y="239.70" font-size="10.7" text-anchor="end" font-weight="normal" fill="#231f20" stroke="#231f20" stroke-width="0.25">600</text>
<line x1="49.20" y1="207.20" x2="53.00" y2="207.20" stroke="#231f20" stroke-width="1.3"/>
<text x="48.50" y="211.40" font-size="10.7" text-anchor="end" font-weight="normal" fill="#231f20" stroke="#231f20" stroke-width="0.25">800</text>
<line x1="53.00" y1="320.40" x2="136.00" y2="320.40" stroke="#231f20" stroke-width="1.3"/>
<line x1="76.80" y1="320.40" x2="76.80" y2="324.20" stroke="#231f20" stroke-width="1.3"/>
<line x1="111.70" y1="320.40" x2="111.70" y2="324.20" stroke="#231f20" stroke-width="1.3"/>
<line x1="64.40" y1="275.12" x2="88.80" y2="275.12" stroke="#1c1a1b" stroke-width="1.1"/>
<line x1="76.60" y1="272.29" x2="76.60" y2="277.67" stroke="#1c1a1b" stroke-width="1.1"/>
<line x1="73.40" y1="272.29" x2="79.80" y2="272.29" stroke="#1c1a1b" stroke-width="1.1"/>
<line x1="73.40" y1="277.67" x2="79.80" y2="277.67" stroke="#1c1a1b" stroke-width="1.1"/>
<line x1="99.70" y1="260.69" x2="123.90" y2="260.69" stroke="#e8141c" stroke-width="1.1"/>
<line x1="111.80" y1="254.18" x2="111.80" y2="266.63" stroke="#e8141c" stroke-width="1.1"/>
<line x1="105.70" y1="254.18" x2="117.90" y2="254.18" stroke="#e8141c" stroke-width="1.1"/>
<line x1="105.70" y1="266.63" x2="117.90" y2="266.63" stroke="#e8141c" stroke-width="1.1"/>
<circle cx="76.50" cy="265.70" r="2.5" fill="#1c1a1b"/>
<circle cx="71.90" cy="269.90" r="2.5" fill="#1c1a1b"/>
<circle cx="71.90" cy="276.70" r="2.5" fill="#1c1a1b"/>
<circle cx="81.00" cy="274.80" r="2.5" fill="#1c1a1b"/>
<circle cx="71.90" cy="282.50" r="2.5" fill="#1c1a1b"/>
<circle cx="81.00" cy="281.80" r="2.5" fill="#1c1a1b"/>
<circle cx="112.10" cy="236.90" r="2.5" fill="#e8141c"/>
<circle cx="112.10" cy="258.40" r="2.5" fill="#e8141c"/>
<circle cx="112.10" cy="263.30" r="2.5" fill="#e8141c"/>
<circle cx="107.50" cy="273.00" r="2.5" fill="#e8141c"/>
<circle cx="116.60" cy="269.70" r="2.5" fill="#e8141c"/>
<line x1="77.90" y1="226.50" x2="110.60" y2="226.50" stroke="#555" stroke-width="0.9"/>
<text x="93.40" y="221.60" font-size="9.3" text-anchor="middle" font-weight="normal" fill="#231f20" stroke="#231f20" stroke-width="0.25">0.046</text>
<text x="20.50" y="257.60" font-size="11.2" text-anchor="middle" font-weight="normal" fill="#231f20" stroke="#231f20" stroke-width="0.25" transform="rotate(-90 20.5 257.6)">IL7R MFI</text>
<rect x="160.4" y="199.4" width="118.20000000000002" height="118.1" fill="none" stroke="#6a6a6a" stroke-width="0.9"/>
<line x1="160.4" y1="199.4" x2="160.4" y2="317.5" stroke="#444" stroke-width="1"/>
<line x1="157.40" y1="317.50" x2="160.40" y2="317.50" stroke="#333" stroke-width="0.8"/>
<line x1="158.60" y1="311.88" x2="160.40" y2="311.88" stroke="#333" stroke-width="0.8"/>
<line x1="158.60" y1="306.27" x2="160.40" y2="306.27" stroke="#333" stroke-width="0.8"/>
<line x1="158.60" y1="300.65" x2="160.40" y2="300.65" stroke="#333" stroke-width="0.8"/>
<line x1="157.40" y1="295.04" x2="160.40" y2="295.04" stroke="#333" stroke-width="0.8"/>
<line x1="158.60" y1="289.43" x2="160.40" y2="289.43" stroke="#333" stroke-width="0.8"/>
<line x1="158.60" y1="283.81" x2="160.40" y2="283.81" stroke="#333" stroke-width="0.8"/>
<line x1="158.60" y1="278.19" x2="160.40" y2="278.19" stroke="#333" stroke-width="0.8"/>
<line x1="157.40" y1="272.58" x2="160.40" y2="272.58" stroke="#333" stroke-width="0.8"/>
<line x1="158.60" y1="266.97" x2="160.40" y2="266.97" stroke="#333" stroke-width="0.8"/>
<line x1="158.60" y1="261.35" x2="160.40" y2="261.35" stroke="#333" stroke-width="0.8"/>
<line x1="158.60" y1="255.74" x2="160.40" y2="255.74" stroke="#333" stroke-width="0.8"/>
<line x1="157.40" y1="250.12" x2="160.40" y2="250.12" stroke="#333" stroke-width="0.8"/>
<line x1="158.60" y1="244.50" x2="160.40" y2="244.50" stroke="#333" stroke-width="0.8"/>
<line x1="158.60" y1="238.89" x2="160.40" y2="238.89" stroke="#333" stroke-width="0.8"/>
<line x1="158.60" y1="233.28" x2="160.40" y2="233.28" stroke="#333" stroke-width="0.8"/>
<line x1="157.40" y1="227.66" x2="160.40" y2="227.66" stroke="#333" stroke-width="0.8"/>
<line x1="158.60" y1="222.05" x2="160.40" y2="222.05" stroke="#333" stroke-width="0.8"/>
<line x1="158.60" y1="216.43" x2="160.40" y2="216.43" stroke="#333" stroke-width="0.8"/>
<line x1="158.60" y1="210.81" x2="160.40" y2="210.81" stroke="#333" stroke-width="0.8"/>
<line x1="157.40" y1="205.20" x2="160.40" y2="205.20" stroke="#333" stroke-width="0.8"/>
<line x1="168.40" y1="317.50" x2="168.40" y2="319.70" stroke="#333" stroke-width="0.6"/>
<line x1="174.55" y1="317.50" x2="174.55" y2="318.70" stroke="#333" stroke-width="0.6"/>
<line x1="178.15" y1="317.50" x2="178.15" y2="318.70" stroke="#333" stroke-width="0.6"/>
<line x1="180.71" y1="317.50" x2="180.71" y2="318.70" stroke="#333" stroke-width="0.6"/>
<line x1="182.69" y1="317.50" x2="182.69" y2="318.70" stroke="#333" stroke-width="0.6"/>
<line x1="184.31" y1="317.50" x2="184.31" y2="318.70" stroke="#333" stroke-width="0.6"/>
<line x1="185.67" y1="317.50" x2="185.67" y2="318.70" stroke="#333" stroke-width="0.6"/>
<line x1="186.86" y1="317.50" x2="186.86" y2="318.70" stroke="#333" stroke-width="0.6"/>
<line x1="187.90" y1="317.50" x2="187.90" y2="318.70" stroke="#333" stroke-width="0.6"/>
<line x1="188.84" y1="317.50" x2="188.84" y2="319.70" stroke="#333" stroke-width="0.6"/>
<line x1="194.99" y1="317.50" x2="194.99" y2="318.70" stroke="#333" stroke-width="0.6"/>
<line x1="198.59" y1="317.50" x2="198.59" y2="318.70" stroke="#333" stroke-width="0.6"/>
<line x1="201.15" y1="317.50" x2="201.15" y2="318.70" stroke="#333" stroke-width="0.6"/>
<line x1="203.13" y1="317.50" x2="203.13" y2="318.70" stroke="#333" stroke-width="0.6"/>
<line x1="204.75" y1="317.50" x2="204.75" y2="318.70" stroke="#333" stroke-width="0.6"/>
<line x1="206.11" y1="317.50" x2="206.11" y2="318.70" stroke="#333" stroke-width="0.6"/>
<line x1="207.30" y1="317.50" x2="207.30" y2="318.70" stroke="#333" stroke-width="0.6"/>
<line x1="208.34" y1="317.50" x2="208.34" y2="318.70" stroke="#333" stroke-width="0.6"/>
<line x1="209.28" y1="317.50" x2="209.28" y2="319.70" stroke="#333" stroke-width="0.6"/>
<line x1="215.43" y1="317.50" x2="215.43" y2="318.70" stroke="#333" stroke-width="0.6"/>
<line x1="219.03" y1="317.50" x2="219.03" y2="318.70" stroke="#333" stroke-width="0.6"/>
<line x1="221.59" y1="317.50" x2="221.59" y2="318.70" stroke="#333" stroke-width="0.6"/>
<line x1="223.57" y1="317.50" x2="223.57" y2="318.70" stroke="#333" stroke-width="0.6"/>
<line x1="225.19" y1="317.50" x2="225.19" y2="318.70" stroke="#333" stroke-width="0.6"/>
<line x1="226.55" y1="317.50" x2="226.55" y2="318.70" stroke="#333" stroke-width="0.6"/>
<line x1="227.74" y1="317.50" x2="227.74" y2="318.70" stroke="#333" stroke-width="0.6"/>
<line x1="228.78" y1="317.50" x2="228.78" y2="318.70" stroke="#333" stroke-width="0.6"/>
<line x1="229.72" y1="317.50" x2="229.72" y2="319.70" stroke="#333" stroke-width="0.6"/>
<line x1="235.87" y1="317.50" x2="235.87" y2="318.70" stroke="#333" stroke-width="0.6"/>
<line x1="239.47" y1="317.50" x2="239.47" y2="318.70" stroke="#333" stroke-width="0.6"/>
<line x1="242.03" y1="317.50" x2="242.03" y2="318.70" stroke="#333" stroke-width="0.6"/>
<line x1="244.01" y1="317.50" x2="244.01" y2="318.70" stroke="#333" stroke-width="0.6"/>
<line x1="245.63" y1="317.50" x2="245.63" y2="318.70" stroke="#333" stroke-width="0.6"/>
<line x1="246.99" y1="317.50" x2="246.99" y2="318.70" stroke="#333" stroke-width="0.6"/>
<line x1="248.18" y1="317.50" x2="248.18" y2="318.70" stroke="#333" stroke-width="0.6"/>
<line x1="249.22" y1="317.50" x2="249.22" y2="318.70" stroke="#333" stroke-width="0.6"/>
<line x1="250.16" y1="317.50" x2="250.16" y2="319.70" stroke="#333" stroke-width="0.6"/>
<line x1="256.31" y1="317.50" x2="256.31" y2="318.70" stroke="#333" stroke-width="0.6"/>
<line x1="259.91" y1="317.50" x2="259.91" y2="318.70" stroke="#333" stroke-width="0.6"/>
<line x1="262.47" y1="317.50" x2="262.47" y2="318.70" stroke="#333" stroke-width="0.6"/>
<line x1="264.45" y1="317.50" x2="264.45" y2="318.70" stroke="#333" stroke-width="0.6"/>
<line x1="266.07" y1="317.50" x2="266.07" y2="318.70" stroke="#333" stroke-width="0.6"/>
<line x1="267.43" y1="317.50" x2="267.43" y2="318.70" stroke="#333" stroke-width="0.6"/>
<line x1="268.62" y1="317.50" x2="268.62" y2="318.70" stroke="#333" stroke-width="0.6"/>
<line x1="269.66" y1="317.50" x2="269.66" y2="318.70" stroke="#333" stroke-width="0.6"/>
<text x="152.40" y="262.80" font-size="10.8" text-anchor="middle" font-weight="normal" fill="#231f20" stroke="#231f20" stroke-width="0.25" transform="rotate(-90 152.4 262.8)">Count</text>
<text x="215.60" y="331.50" font-size="10.9" text-anchor="middle" font-weight="normal" fill="#231f20" stroke="#231f20" stroke-width="0.25">IL7R</text>
<path d="M172,317.5 L176.6,317.2 L182.6,315 L189.8,313.8 L193.4,312.3 L197,313.2 L201.8,305.4 L204.2,306 L207.8,300.6 L211.4,291 L214.4,276.6 L216.8,255 L218.5,243 L221.5,217.8 L223.3,228.6 L224.5,255 L225.3,270 L226.1,290 L226.9,301 L227.8,308.5 L229,313.5 L230.6,316.3 L233,317.4 L236,317.5" stroke="#e8141c" stroke-width="0.9" fill="none"/>
<path d="M170,317.5 L173,317.4 L176,315.6 L180.2,310.8 L183.8,303.6 L186.2,303.6 L189.8,297 L192.8,295.8 L195.8,286.8 L197.6,288 L200.6,275.4 L203.6,265.2 L205.4,264 L207.8,255 L209.6,241.8 L211.4,239.4 L213.8,234.6 L215,221.4 L217.3,233.4 L219.7,249 L221.2,272 L222.4,290 L223.6,300 L224.6,306 L225.8,312.2 L227.2,315.8 L229.5,317.4 L232,317.5" stroke="#222" stroke-width="0.9" fill="none"/>
<line x1="160.40" y1="317.50" x2="278.60" y2="317.50" stroke="#333" stroke-width="1.0"/>
<circle cx="285.00" cy="205.60" r="2.2" fill="#1c1a1b"/>
<circle cx="285.00" cy="221.40" r="2.2" fill="#e8141c"/>
<text x="297.80" y="208.90" font-size="9.4" text-anchor="start" font-weight="normal" fill="#231f20" stroke="#231f20" stroke-width="0.25">NC</text>
<text x="297.80" y="224.60" font-size="9.4" text-anchor="start" font-weight="normal" fill="#231f20" stroke="#231f20" stroke-width="0.25">Cul5 KO</text>
<text x="342.40" y="189.90" font-size="12.5" text-anchor="start" font-weight="bold" fill="#111">d</text>
<line x1="388.70" y1="200.09" x2="388.70" y2="313.60" stroke="#231f20" stroke-width="1.3"/>
<line x1="384.90" y1="313.60" x2="388.70" y2="313.60" stroke="#231f20" stroke-width="1.3"/>
<text x="384.20" y="317.80" font-size="10.7" text-anchor="end" font-weight="normal" fill="#231f20" stroke="#231f20" stroke-width="0.25">0</text>
<line x1="384.90" y1="275.93" x2="388.70" y2="275.93" stroke="#231f20" stroke-width="1.3"/>
<text x="384.20" y="280.13" font-size="10.7" text-anchor="end" font-weight="normal" fill="#231f20" stroke="#231f20" stroke-width="0.25">100</text>
<line x1="384.90" y1="238.26" x2="388.70" y2="238.26" stroke="#231f20" stroke-width="1.3"/>
<text x="384.20" y="242.46" font-size="10.7" text-anchor="end" font-weight="normal" fill="#231f20" stroke="#231f20" stroke-width="0.25">200</text>
<line x1="384.90" y1="200.59" x2="388.70" y2="200.59" stroke="#231f20" stroke-width="1.3"/>
<text x="384.20" y="204.79" font-size="10.7" text-anchor="end" font-weight="normal" fill="#231f20" stroke="#231f20" stroke-width="0.25">300</text>
<line x1="388.70" y1="313.60" x2="471.40" y2="313.60" stroke="#231f20" stroke-width="1.3"/>
<line x1="412.40" y1="313.60" x2="412.40" y2="317.40" stroke="#231f20" stroke-width="1.3"/>
<line x1="447.60" y1="313.60" x2="447.60" y2="317.40" stroke="#231f20" stroke-width="1.3"/>
<line x1="400.10" y1="248.43" x2="424.30" y2="248.43" stroke="#1c1a1b" stroke-width="1.1"/>
<line x1="412.20" y1="243.91" x2="412.20" y2="252.95" stroke="#1c1a1b" stroke-width="1.1"/>
<line x1="406.00" y1="243.91" x2="418.40" y2="243.91" stroke="#1c1a1b" stroke-width="1.1"/>
<line x1="406.00" y1="252.95" x2="418.40" y2="252.95" stroke="#1c1a1b" stroke-width="1.1"/>
<line x1="435.30" y1="228.09" x2="459.90" y2="228.09" stroke="#e8141c" stroke-width="1.1"/>
<line x1="447.60" y1="224.13" x2="447.60" y2="231.86" stroke="#e8141c" stroke-width="1.1"/>
<line x1="441.20" y1="224.13" x2="454.00" y2="224.13" stroke="#e8141c" stroke-width="1.1"/>
<line x1="441.20" y1="231.86" x2="454.00" y2="231.86" stroke="#e8141c" stroke-width="1.1"/>
<circle cx="412.00" cy="231.10" r="2.5" fill="#1c1a1b"/>
<circle cx="412.00" cy="241.70" r="2.5" fill="#1c1a1b"/>
<circle cx="406.00" cy="248.00" r="2.5" fill="#1c1a1b"/>
<circle cx="417.90" cy="252.40" r="2.5" fill="#1c1a1b"/>
<circle cx="406.00" cy="257.20" r="2.5" fill="#1c1a1b"/>
<circle cx="417.90" cy="260.60" r="2.5" fill="#1c1a1b"/>
<circle cx="439.40" cy="218.70" r="2.5" fill="#e8141c"/>
<circle cx="447.60" cy="223.40" r="2.5" fill="#e8141c"/>
<circle cx="455.30" cy="223.80" r="2.5" fill="#e8141c"/>
<circle cx="443.40" cy="236.50" r="2.5" fill="#e8141c"/>
<circle cx="451.10" cy="238.00" r="2.5" fill="#e8141c"/>
<line x1="413.30" y1="206.40" x2="445.20" y2="206.40" stroke="#555" stroke-width="0.9"/>
<text x="426.80" y="199.60" font-size="9.3" text-anchor="middle" font-weight="normal" fill="#231f20" stroke="#231f20" stroke-width="0.25">0.008</text>
<text x="355.70" y="256.00" font-size="10.95" text-anchor="middle" font-weight="normal" fill="#231f20" stroke="#231f20" stroke-width="0.25" transform="rotate(-90 355.7 256.0)">GZMB MFI</text>
<rect x="494.3" y="194.4" width="118.30000000000001" height="118.9" fill="none" stroke="#6a6a6a" stroke-width="0.9"/>
<line x1="494.3" y1="194.4" x2="494.3" y2="313.3" stroke="#444" stroke-width="1"/>
<line x1="491.30" y1="313.30" x2="494.30" y2="313.30" stroke="#333" stroke-width="0.8"/>
<line x1="492.50" y1="307.65" x2="494.30" y2="307.65" stroke="#333" stroke-width="0.8"/>
<line x1="492.50" y1="301.99" x2="494.30" y2="301.99" stroke="#333" stroke-width="0.8"/>
<line x1="492.50" y1="296.34" x2="494.30" y2="296.34" stroke="#333" stroke-width="0.8"/>
<line x1="491.30" y1="290.68" x2="494.30" y2="290.68" stroke="#333" stroke-width="0.8"/>
<line x1="492.50" y1="285.03" x2="494.30" y2="285.03" stroke="#333" stroke-width="0.8"/>
<line x1="492.50" y1="279.37" x2="494.30" y2="279.37" stroke="#333" stroke-width="0.8"/>
<line x1="492.50" y1="273.72" x2="494.30" y2="273.72" stroke="#333" stroke-width="0.8"/>
<line x1="491.30" y1="268.06" x2="494.30" y2="268.06" stroke="#333" stroke-width="0.8"/>
<line x1="492.50" y1="262.41" x2="494.30" y2="262.41" stroke="#333" stroke-width="0.8"/>
<line x1="492.50" y1="256.75" x2="494.30" y2="256.75" stroke="#333" stroke-width="0.8"/>
<line x1="492.50" y1="251.09" x2="494.30" y2="251.09" stroke="#333" stroke-width="0.8"/>
<line x1="491.30" y1="245.44" x2="494.30" y2="245.44" stroke="#333" stroke-width="0.8"/>
<line x1="492.50" y1="239.78" x2="494.30" y2="239.78" stroke="#333" stroke-width="0.8"/>
<line x1="492.50" y1="234.13" x2="494.30" y2="234.13" stroke="#333" stroke-width="0.8"/>
<line x1="492.50" y1="228.47" x2="494.30" y2="228.47" stroke="#333" stroke-width="0.8"/>
<line x1="491.30" y1="222.82" x2="494.30" y2="222.82" stroke="#333" stroke-width="0.8"/>
<line x1="492.50" y1="217.17" x2="494.30" y2="217.17" stroke="#333" stroke-width="0.8"/>
<line x1="492.50" y1="211.51" x2="494.30" y2="211.51" stroke="#333" stroke-width="0.8"/>
<line x1="492.50" y1="205.86" x2="494.30" y2="205.86" stroke="#333" stroke-width="0.8"/>
<line x1="491.30" y1="200.20" x2="494.30" y2="200.20" stroke="#333" stroke-width="0.8"/>
<line x1="502.30" y1="313.30" x2="502.30" y2="315.50" stroke="#333" stroke-width="0.6"/>
<line x1="508.46" y1="313.30" x2="508.46" y2="314.50" stroke="#333" stroke-width="0.6"/>
<line x1="512.06" y1="313.30" x2="512.06" y2="314.50" stroke="#333" stroke-width="0.6"/>
<line x1="514.62" y1="313.30" x2="514.62" y2="314.50" stroke="#333" stroke-width="0.6"/>
<line x1="516.60" y1="313.30" x2="516.60" y2="314.50" stroke="#333" stroke-width="0.6"/>
<line x1="518.22" y1="313.30" x2="518.22" y2="314.50" stroke="#333" stroke-width="0.6"/>
<line x1="519.59" y1="313.30" x2="519.59" y2="314.50" stroke="#333" stroke-width="0.6"/>
<line x1="520.78" y1="313.30" x2="520.78" y2="314.50" stroke="#333" stroke-width="0.6"/>
<line x1="521.82" y1="313.30" x2="521.82" y2="314.50" stroke="#333" stroke-width="0.6"/>
<line x1="522.76" y1="313.30" x2="522.76" y2="315.50" stroke="#333" stroke-width="0.6"/>
<line x1="528.92" y1="313.30" x2="528.92" y2="314.50" stroke="#333" stroke-width="0.6"/>
<line x1="532.52" y1="313.30" x2="532.52" y2="314.50" stroke="#333" stroke-width="0.6"/>
<line x1="535.08" y1="313.30" x2="535.08" y2="314.50" stroke="#333" stroke-width="0.6"/>
<line x1="537.06" y1="313.30" x2="537.06" y2="314.50" stroke="#333" stroke-width="0.6"/>
<line x1="538.68" y1="313.30" x2="538.68" y2="314.50" stroke="#333" stroke-width="0.6"/>
<line x1="540.05" y1="313.30" x2="540.05" y2="314.50" stroke="#333" stroke-width="0.6"/>
<line x1="541.24" y1="313.30" x2="541.24" y2="314.50" stroke="#333" stroke-width="0.6"/>
<line x1="542.28" y1="313.30" x2="542.28" y2="314.50" stroke="#333" stroke-width="0.6"/>
<line x1="543.22" y1="313.30" x2="543.22" y2="315.50" stroke="#333" stroke-width="0.6"/>
<line x1="549.38" y1="313.30" x2="549.38" y2="314.50" stroke="#333" stroke-width="0.6"/>
<line x1="552.98" y1="313.30" x2="552.98" y2="314.50" stroke="#333" stroke-width="0.6"/>
<line x1="555.54" y1="313.30" x2="555.54" y2="314.50" stroke="#333" stroke-width="0.6"/>
<line x1="557.52" y1="313.30" x2="557.52" y2="314.50" stroke="#333" stroke-width="0.6"/>
<line x1="559.14" y1="313.30" x2="559.14" y2="314.50" stroke="#333" stroke-width="0.6"/>
<line x1="560.51" y1="313.30" x2="560.51" y2="314.50" stroke="#333" stroke-width="0.6"/>
<line x1="561.70" y1="313.30" x2="561.70" y2="314.50" stroke="#333" stroke-width="0.6"/>
<line x1="562.74" y1="313.30" x2="562.74" y2="314.50" stroke="#333" stroke-width="0.6"/>
<line x1="563.68" y1="313.30" x2="563.68" y2="315.50" stroke="#333" stroke-width="0.6"/>
<line x1="569.84" y1="313.30" x2="569.84" y2="314.50" stroke="#333" stroke-width="0.6"/>
<line x1="573.44" y1="313.30" x2="573.44" y2="314.50" stroke="#333" stroke-width="0.6"/>
<line x1="576.00" y1="313.30" x2="576.00" y2="314.50" stroke="#333" stroke-width="0.6"/>
<line x1="577.98" y1="313.30" x2="577.98" y2="314.50" stroke="#333" stroke-width="0.6"/>
<line x1="579.60" y1="313.30" x2="579.60" y2="314.50" stroke="#333" stroke-width="0.6"/>
<line x1="580.97" y1="313.30" x2="580.97" y2="314.50" stroke="#333" stroke-width="0.6"/>
<line x1="582.16" y1="313.30" x2="582.16" y2="314.50" stroke="#333" stroke-width="0.6"/>
<line x1="583.20" y1="313.30" x2="583.20" y2="314.50" stroke="#333" stroke-width="0.6"/>
<line x1="584.14" y1="313.30" x2="584.14" y2="315.50" stroke="#333" stroke-width="0.6"/>
<line x1="590.30" y1="313.30" x2="590.30" y2="314.50" stroke="#333" stroke-width="0.6"/>
<line x1="593.90" y1="313.30" x2="593.90" y2="314.50" stroke="#333" stroke-width="0.6"/>
<line x1="596.46" y1="313.30" x2="596.46" y2="314.50" stroke="#333" stroke-width="0.6"/>
<line x1="598.44" y1="313.30" x2="598.44" y2="314.50" stroke="#333" stroke-width="0.6"/>
<line x1="600.06" y1="313.30" x2="600.06" y2="314.50" stroke="#333" stroke-width="0.6"/>
<line x1="601.43" y1="313.30" x2="601.43" y2="314.50" stroke="#333" stroke-width="0.6"/>
<line x1="602.62" y1="313.30" x2="602.62" y2="314.50" stroke="#333" stroke-width="0.6"/>
<line x1="603.66" y1="313.30" x2="603.66" y2="314.50" stroke="#333" stroke-width="0.6"/>
<text x="484.40" y="258.60" font-size="10.7" text-anchor="middle" font-weight="normal" fill="#231f20" stroke="#231f20" stroke-width="0.25" transform="rotate(-90 484.4 258.6)">Count</text>
<text x="550.90" y="327.60" font-size="10.5" text-anchor="middle" font-weight="normal" fill="#231f20" stroke="#231f20" stroke-width="0.25">GZMB</text>
<path d="M502,313.3 L505.7,313.3 L511.6,307.9 L515.5,308.5 L521.4,304 L526.3,296.1 L530.3,282.3 L533.2,268.6 L536.2,252.9 L538.1,232.2 L540.1,231.3 L542.7,213.6 L544.5,219 L546,222.4 L547.5,224 L548.9,239.1 L549.9,235.2 L551.9,266.6 L556.8,288.2 L560.7,302 L565.6,311.8 L568.6,313.3 L571,313.3" stroke="#e8141c" stroke-width="0.9" fill="none"/>
<path d="M501,313.3 L504.7,313.3 L507.7,311.8 L513.6,308.9 L519.5,304.9 L525.4,298.1 L529.3,288.2 L532.2,276.4 L536.2,258.8 L539.1,235.2 L542.7,216.5 L545,229.3 L548.9,258.8 L551.2,276 L553,288 L555.3,299.5 L557.6,307 L560,311.5 L562.5,313.2 L565,313.3" stroke="#222" stroke-width="0.9" fill="none"/>
<line x1="494.30" y1="313.30" x2="612.60" y2="313.30" stroke="#333" stroke-width="1.0"/>
<circle cx="619.30" cy="200.20" r="2.2" fill="#1c1a1b"/>
<circle cx="619.30" cy="215.60" r="2.2" fill="#e8141c"/>
<text x="632.60" y="203.50" font-size="9.4" text-anchor="start" font-weight="normal" fill="#231f20" stroke="#231f20" stroke-width="0.25">NC</text>
<text x="632.60" y="219.00" font-size="9.4" text-anchor="start" font-weight="normal" fill="#231f20" stroke="#231f20" stroke-width="0.25">Cul5 KO</text>
<text x="11.00" y="371.60" font-size="12.5" text-anchor="start" font-weight="bold" fill="#111">e</text>
<line x1="59.00" y1="384.20" x2="59.00" y2="497.40" stroke="#231f20" stroke-width="1.3"/>
<line x1="55.20" y1="497.40" x2="59.00" y2="497.40" stroke="#231f20" stroke-width="1.3"/>
<text x="54.50" y="501.60" font-size="10.7" text-anchor="end" font-weight="normal" fill="#231f20" stroke="#231f20" stroke-width="0.25">0</text>
<line x1="55.20" y1="474.86" x2="59.00" y2="474.86" stroke="#231f20" stroke-width="1.3"/>
<text x="54.50" y="479.06" font-size="10.7" text-anchor="end" font-weight="normal" fill="#231f20" stroke="#231f20" stroke-width="0.25">5</text>
<line x1="55.20" y1="452.32" x2="59.00" y2="452.32" stroke="#231f20" stroke-width="1.3"/>
<text x="54.50" y="456.52" font-size="10.7" text-anchor="end" font-weight="normal" fill="#231f20" stroke="#231f20" stroke-width="0.25">10</text>
<line x1="55.20" y1="429.78" x2="59.00" y2="429.78" stroke="#231f20" stroke-width="1.3"/>
<text x="54.50" y="433.98" font-size="10.7" text-anchor="end" font-weight="normal" fill="#231f20" stroke="#231f20" stroke-width="0.25">15</text>
<line x1="55.20" y1="407.24" x2="59.00" y2="407.24" stroke="#231f20" stroke-width="1.3"/>
<text x="54.50" y="411.44" font-size="10.7" text-anchor="end" font-weight="normal" fill="#231f20" stroke="#231f20" stroke-width="0.25">20</text>
<line x1="55.20" y1="384.70" x2="59.00" y2="384.70" stroke="#231f20" stroke-width="1.3"/>
<text x="54.50" y="388.90" font-size="10.7" text-anchor="end" font-weight="normal" fill="#231f20" stroke="#231f20" stroke-width="0.25">25</text>
<line x1="59.00" y1="497.40" x2="142.40" y2="497.40" stroke="#231f20" stroke-width="1.3"/>
<line x1="82.40" y1="497.40" x2="82.40" y2="501.20" stroke="#231f20" stroke-width="1.3"/>
<line x1="117.80" y1="497.40" x2="117.80" y2="501.20" stroke="#231f20" stroke-width="1.3"/>
<line x1="70.30" y1="480.59" x2="94.90" y2="480.59" stroke="#1c1a1b" stroke-width="1.1"/>
<line x1="82.60" y1="474.41" x2="82.60" y2="487.03" stroke="#1c1a1b" stroke-width="1.1"/>
<line x1="76.30" y1="474.41" x2="88.90" y2="474.41" stroke="#1c1a1b" stroke-width="1.1"/>
<line x1="76.30" y1="487.03" x2="88.90" y2="487.03" stroke="#1c1a1b" stroke-width="1.1"/>
<line x1="105.70" y1="446.01" x2="130.10" y2="446.01" stroke="#e8141c" stroke-width="1.1"/>
<line x1="117.90" y1="431.13" x2="117.90" y2="460.43" stroke="#e8141c" stroke-width="1.1"/>
<line x1="111.70" y1="431.13" x2="124.10" y2="431.13" stroke="#e8141c" stroke-width="1.1"/>
<line x1="111.70" y1="460.43" x2="124.10" y2="460.43" stroke="#e8141c" stroke-width="1.1"/>
<circle cx="82.80" cy="455.93" r="2.5" fill="#1c1a1b"/>
<circle cx="82.80" cy="467.65" r="2.5" fill="#1c1a1b"/>
<circle cx="82.80" cy="482.52" r="2.5" fill="#1c1a1b"/>
<circle cx="75.00" cy="490.19" r="2.5" fill="#1c1a1b"/>
<circle cx="82.80" cy="491.54" r="2.5" fill="#1c1a1b"/>
<circle cx="90.50" cy="494.92" r="2.5" fill="#1c1a1b"/>
<circle cx="117.80" cy="408.59" r="2.5" fill="#e8141c"/>
<circle cx="111.60" cy="431.58" r="2.5" fill="#e8141c"/>
<circle cx="123.90" cy="433.84" r="2.5" fill="#e8141c"/>
<circle cx="117.80" cy="460.43" r="2.5" fill="#e8141c"/>
<circle cx="117.80" cy="494.70" r="2.5" fill="#e8141c"/>
<line x1="84.70" y1="391.60" x2="116.90" y2="391.60" stroke="#555" stroke-width="0.9"/>
<text x="99.80" y="387.80" font-size="9.3" text-anchor="middle" font-weight="normal" fill="#231f20" stroke="#231f20" stroke-width="0.25">0.046</text>
<text x="32.30" y="438.60" font-size="11.1" text-anchor="middle" font-weight="normal" fill="#231f20" stroke="#231f20" stroke-width="0.25" transform="rotate(-90 32.3 438.6)">IFNg+ count (x10<tspan dy="-4.6" font-size="7.6">4</tspan><tspan dy="4.6">)</tspan></text>
<line x1="195.20" y1="384.10" x2="195.20" y2="497.40" stroke="#231f20" stroke-width="1.3"/>
<line x1="191.40" y1="497.40" x2="195.20" y2="497.40" stroke="#231f20" stroke-width="1.3"/>
<text x="190.70" y="501.60" font-size="10.7" text-anchor="end" font-weight="normal" fill="#231f20" stroke="#231f20" stroke-width="0.25">0</text>
<line x1="191.40" y1="459.80" x2="195.20" y2="459.80" stroke="#231f20" stroke-width="1.3"/>
<text x="190.70" y="464.00" font-size="10.7" text-anchor="end" font-weight="normal" fill="#231f20" stroke="#231f20" stroke-width="0.25">5</text>
<line x1="191.40" y1="422.20" x2="195.20" y2="422.20" stroke="#231f20" stroke-width="1.3"/>
<text x="190.70" y="426.40" font-size="10.7" text-anchor="end" font-weight="normal" fill="#231f20" stroke="#231f20" stroke-width="0.25">10</text>
<line x1="191.40" y1="384.60" x2="195.20" y2="384.60" stroke="#231f20" stroke-width="1.3"/>
<text x="190.70" y="388.80" font-size="10.7" text-anchor="end" font-weight="normal" fill="#231f20" stroke="#231f20" stroke-width="0.25">15</text>
<line x1="195.20" y1="497.40" x2="278.60" y2="497.40" stroke="#231f20" stroke-width="1.3"/>
<line x1="219.20" y1="497.40" x2="219.20" y2="501.20" stroke="#231f20" stroke-width="1.3"/>
<line x1="254.70" y1="497.40" x2="254.70" y2="501.20" stroke="#231f20" stroke-width="1.3"/>
<line x1="206.50" y1="488.60" x2="230.90" y2="488.60" stroke="#1c1a1b" stroke-width="1.1"/>
<line x1="218.70" y1="485.52" x2="218.70" y2="491.91" stroke="#1c1a1b" stroke-width="1.1"/>
<line x1="212.60" y1="485.52" x2="224.80" y2="485.52" stroke="#1c1a1b" stroke-width="1.1"/>
<line x1="212.60" y1="491.91" x2="224.80" y2="491.91" stroke="#1c1a1b" stroke-width="1.1"/>
<line x1="242.60" y1="454.31" x2="266.60" y2="454.31" stroke="#e8141c" stroke-width="1.1"/>
<line x1="254.60" y1="439.27" x2="254.60" y2="469.50" stroke="#e8141c" stroke-width="1.1"/>
<line x1="248.20" y1="439.27" x2="261.00" y2="439.27" stroke="#e8141c" stroke-width="1.1"/>
<line x1="248.20" y1="469.50" x2="261.00" y2="469.50" stroke="#e8141c" stroke-width="1.1"/>
<circle cx="218.60" cy="479.73" r="2.5" fill="#1c1a1b"/>
<circle cx="228.30" cy="477.85" r="2.5" fill="#1c1a1b"/>
<circle cx="218.60" cy="489.13" r="2.5" fill="#1c1a1b"/>
<circle cx="208.90" cy="495.90" r="2.5" fill="#1c1a1b"/>
<circle cx="218.60" cy="496.27" r="2.5" fill="#1c1a1b"/>
<circle cx="228.30" cy="495.90" r="2.5" fill="#1c1a1b"/>
<circle cx="254.70" cy="416.94" r="2.5" fill="#e8141c"/>
<circle cx="254.70" cy="426.71" r="2.5" fill="#e8141c"/>
<circle cx="254.70" cy="451.53" r="2.5" fill="#e8141c"/>
<circle cx="254.70" cy="479.73" r="2.5" fill="#e8141c"/>
<circle cx="254.70" cy="496.27" r="2.5" fill="#e8141c"/>
<line x1="221.10" y1="391.60" x2="252.70" y2="391.60" stroke="#555" stroke-width="0.9"/>
<text x="234.50" y="387.80" font-size="9.3" text-anchor="middle" font-weight="normal" fill="#231f20" stroke="#231f20" stroke-width="0.25">0.038</text>
<text x="168.80" y="439.30" font-size="11.1" text-anchor="middle" font-weight="normal" fill="#231f20" stroke="#231f20" stroke-width="0.25" transform="rotate(-90 168.8 439.3)">TNF+ count (x10<tspan dy="-4.6" font-size="7.6">4</tspan><tspan dy="4.6">)</tspan></text>
<circle cx="284.10" cy="381.30" r="2.2" fill="#1c1a1b"/>
<circle cx="284.10" cy="396.60" r="2.2" fill="#e8141c"/>
<text x="297.40" y="384.70" font-size="9.4" text-anchor="start" font-weight="normal" fill="#231f20" stroke="#231f20" stroke-width="0.25">NC</text>
<text x="297.40" y="399.90" font-size="9.4" text-anchor="start" font-weight="normal" fill="#231f20" stroke="#231f20" stroke-width="0.25">Cul5 KO</text>
<text x="363.60" y="374.80" font-size="12.5" text-anchor="start" font-weight="bold" fill="#111">f</text>
<circle cx="432.7" cy="445.9" r="59.6" fill="#9c9b9f" stroke="#231f20" stroke-width="1"/>
<path d="M432.7,445.9 L432.70,386.30 A59.6,59.6 0 1 1 381.08,475.70 Z" fill="#231f20" stroke="#231f20" stroke-width="0.6"/>
<circle cx="562.5" cy="446.2" r="59.4" fill="#9c9b9f" stroke="#231f20" stroke-width="1"/>
<path d="M562.5,446.2 L562.50,386.80 A59.4,59.4 0 0 1 618.99,427.84 Z" fill="#231f20" stroke="#231f20" stroke-width="0.6"/>
<text x="427.80" y="377.20" font-size="10.7" text-anchor="middle" font-weight="normal" fill="#231f20" stroke="#231f20" stroke-width="0.25">NC</text>
<text x="558.70" y="376.70" font-size="10.7" text-anchor="middle" font-weight="normal" fill="#231f20" stroke="#231f20" stroke-width="0.25">Cul5 KO</text>
<text x="405.20" y="431.40" font-size="10.7" text-anchor="middle" font-weight="normal" fill="#f2f2f2">33.3%</text>
<text x="450.10" y="472.60" font-size="10.7" text-anchor="middle" font-weight="normal" fill="#f2f2f2">66.7%</text>
<text x="590.80" y="421.10" font-size="10.7" text-anchor="middle" font-weight="normal" fill="#f2f2f2">20%</text>
<text x="545.00" y="471.00" font-size="10.7" text-anchor="middle" font-weight="normal" fill="#f2f2f2">80%</text>
<rect x="415" y="517" width="18" height="7.7" fill="#231f20"/>
<text x="437.20" y="524.80" font-size="10.7" text-anchor="start" font-weight="normal" fill="#231f20" stroke="#231f20" stroke-width="0.25">Metastasis</text>
<rect x="503.6" y="516.6" width="18.2" height="7.8" fill="#9c9b9f"/>
<text x="525.90" y="524.00" font-size="10.55" text-anchor="start" font-weight="normal" fill="#231f20" stroke="#231f20" stroke-width="0.25">Non-Metastasis</text>
<text x="9.80" y="557.90" font-size="12.5" text-anchor="start" font-weight="bold" fill="#111">g</text>
<line x1="62.00" y1="573.30" x2="62.00" y2="686.80" stroke="#231f20" stroke-width="1.3"/>
<line x1="58.20" y1="686.80" x2="62.00" y2="686.80" stroke="#231f20" stroke-width="1.3"/>
<text x="57.50" y="691.00" font-size="10.7" text-anchor="end" font-weight="normal" fill="#231f20" stroke="#231f20" stroke-width="0.25">0</text>
<line x1="58.20" y1="664.20" x2="62.00" y2="664.20" stroke="#231f20" stroke-width="1.3"/>
<text x="57.50" y="668.40" font-size="10.7" text-anchor="end" font-weight="normal" fill="#231f20" stroke="#231f20" stroke-width="0.25">20</text>
<line x1="58.20" y1="641.60" x2="62.00" y2="641.60" stroke="#231f20" stroke-width="1.3"/>
<text x="57.50" y="645.80" font-size="10.7" text-anchor="end" font-weight="normal" fill="#231f20" stroke="#231f20" stroke-width="0.25">40</text>
<line x1="58.20" y1="619.00" x2="62.00" y2="619.00" stroke="#231f20" stroke-width="1.3"/>
<text x="57.50" y="623.20" font-size="10.7" text-anchor="end" font-weight="normal" fill="#231f20" stroke="#231f20" stroke-width="0.25">60</text>
<line x1="58.20" y1="596.40" x2="62.00" y2="596.40" stroke="#231f20" stroke-width="1.3"/>
<text x="57.50" y="600.60" font-size="10.7" text-anchor="end" font-weight="normal" fill="#231f20" stroke="#231f20" stroke-width="0.25">80</text>
<line x1="58.20" y1="573.80" x2="62.00" y2="573.80" stroke="#231f20" stroke-width="1.3"/>
<text x="57.50" y="578.00" font-size="10.7" text-anchor="end" font-weight="normal" fill="#231f20" stroke="#231f20" stroke-width="0.25">100</text>
<line x1="62.00" y1="686.80" x2="145.80" y2="686.80" stroke="#231f20" stroke-width="1.3"/>
<line x1="85.40" y1="686.80" x2="85.40" y2="690.60" stroke="#231f20" stroke-width="1.3"/>
<line x1="121.10" y1="686.80" x2="121.10" y2="690.60" stroke="#231f20" stroke-width="1.3"/>
<line x1="73.90" y1="682.39" x2="97.90" y2="682.39" stroke="#1c1a1b" stroke-width="1.1"/>
<line x1="85.90" y1="679.45" x2="85.90" y2="685.67" stroke="#1c1a1b" stroke-width="1.1"/>
<line x1="79.70" y1="679.45" x2="92.10" y2="679.45" stroke="#1c1a1b" stroke-width="1.1"/>
<line x1="79.70" y1="685.67" x2="92.10" y2="685.67" stroke="#1c1a1b" stroke-width="1.1"/>
<line x1="108.80" y1="601.15" x2="133.60" y2="601.15" stroke="#e8141c" stroke-width="1.1"/>
<line x1="121.20" y1="598.55" x2="121.20" y2="604.42" stroke="#e8141c" stroke-width="1.1"/>
<line x1="115.20" y1="598.55" x2="127.20" y2="598.55" stroke="#e8141c" stroke-width="1.1"/>
<line x1="115.20" y1="604.42" x2="127.20" y2="604.42" stroke="#e8141c" stroke-width="1.1"/>
<clipPath id="gclip"><rect x="0" y="540" width="340" height="146.8"/></clipPath>
<g clip-path="url(#gclip)">
<circle cx="85.70" cy="674.90" r="2.5" fill="#1c1a1b"/>
<circle cx="77.60" cy="684.60" r="2.5" fill="#1c1a1b"/>
<circle cx="85.70" cy="684.30" r="2.5" fill="#1c1a1b"/>
<circle cx="93.80" cy="686.00" r="2.5" fill="#1c1a1b"/>
</g>
<circle cx="113.10" cy="598.09" r="2.5" fill="#e8141c"/>
<circle cx="117.60" cy="596.63" r="2.5" fill="#e8141c"/>
<circle cx="125.40" cy="594.25" r="2.5" fill="#e8141c"/>
<circle cx="121.50" cy="601.15" r="2.5" fill="#e8141c"/>
<circle cx="129.70" cy="603.97" r="2.5" fill="#e8141c"/>
<circle cx="121.50" cy="614.71" r="2.5" fill="#e8141c"/>
<line x1="89.30" y1="577.10" x2="121.50" y2="577.10" stroke="#555" stroke-width="0.9"/>
<text x="102.90" y="571.90" font-size="9.3" text-anchor="middle" font-weight="normal" fill="#231f20" stroke="#231f20" stroke-width="0.25">&lt;0.001</text>
<text x="37.80" y="628.90" font-size="10.75" text-anchor="middle" font-weight="normal" fill="#231f20" stroke="#231f20" stroke-width="0.25" transform="rotate(-90 37.8 628.9)">IFNg+TNF+ %</text>
<line x1="198.40" y1="573.30" x2="198.40" y2="686.60" stroke="#231f20" stroke-width="1.3"/>
<line x1="194.60" y1="686.60" x2="198.40" y2="686.60" stroke="#231f20" stroke-width="1.3"/>
<text x="193.90" y="690.80" font-size="10.7" text-anchor="end" font-weight="normal" fill="#231f20" stroke="#231f20" stroke-width="0.25">0</text>
<line x1="194.60" y1="649.00" x2="198.40" y2="649.00" stroke="#231f20" stroke-width="1.3"/>
<text x="193.90" y="653.20" font-size="10.7" text-anchor="end" font-weight="normal" fill="#231f20" stroke="#231f20" stroke-width="0.25">20</text>
<line x1="194.60" y1="611.40" x2="198.40" y2="611.40" stroke="#231f20" stroke-width="1.3"/>
<text x="193.90" y="615.60" font-size="10.7" text-anchor="end" font-weight="normal" fill="#231f20" stroke="#231f20" stroke-width="0.25">40</text>
<line x1="194.60" y1="573.80" x2="198.40" y2="573.80" stroke="#231f20" stroke-width="1.3"/>
<text x="193.90" y="578.00" font-size="10.7" text-anchor="end" font-weight="normal" fill="#231f20" stroke="#231f20" stroke-width="0.25">60</text>
<line x1="198.40" y1="686.60" x2="281.90" y2="686.60" stroke="#231f20" stroke-width="1.3"/>
<line x1="222.40" y1="686.60" x2="222.40" y2="690.40" stroke="#231f20" stroke-width="1.3"/>
<line x1="257.10" y1="686.60" x2="257.10" y2="690.40" stroke="#231f20" stroke-width="1.3"/>
<circle cx="212.90" cy="683.30" r="2.5" fill="#1c1a1b"/>
<circle cx="223.90" cy="680.00" r="2.5" fill="#1c1a1b"/>
<line x1="214.00" y1="684.40" x2="233.60" y2="684.40" stroke="#1c1a1b" stroke-width="1.2"/>
<line x1="215.00" y1="685.60" x2="233.00" y2="685.60" stroke="#1c1a1b" stroke-width="1.2"/>
<line x1="245.20" y1="615.54" x2="269.80" y2="615.54" stroke="#e8141c" stroke-width="1.1"/>
<line x1="257.50" y1="609.71" x2="257.50" y2="621.55" stroke="#e8141c" stroke-width="1.1"/>
<line x1="251.10" y1="609.71" x2="263.90" y2="609.71" stroke="#e8141c" stroke-width="1.1"/>
<line x1="251.10" y1="621.55" x2="263.90" y2="621.55" stroke="#e8141c" stroke-width="1.1"/>
<circle cx="253.50" cy="580.94" r="2.5" fill="#e8141c"/>
<circle cx="261.20" cy="585.27" r="2.5" fill="#e8141c"/>
<circle cx="257.10" cy="608.02" r="2.5" fill="#e8141c"/>
<circle cx="249.20" cy="620.05" r="2.5" fill="#e8141c"/>
<circle cx="257.10" cy="618.73" r="2.5" fill="#e8141c"/>
<circle cx="265.10" cy="617.60" r="2.5" fill="#e8141c"/>
<circle cx="249.20" cy="624.75" r="2.5" fill="#e8141c"/>
<circle cx="257.10" cy="628.32" r="2.5" fill="#e8141c"/>
<circle cx="265.10" cy="630.20" r="2.5" fill="#e8141c"/>
<circle cx="257.10" cy="641.10" r="2.5" fill="#e8141c"/>
<line x1="222.80" y1="573.90" x2="255.50" y2="573.90" stroke="#555" stroke-width="0.9"/>
<text x="236.80" y="569.70" font-size="9.3" text-anchor="middle" font-weight="normal" fill="#231f20" stroke="#231f20" stroke-width="0.25">&lt;0.001</text>
<text x="174.10" y="629.00" font-size="10.9" text-anchor="middle" font-weight="normal" fill="#231f20" stroke="#231f20" stroke-width="0.25" transform="rotate(-90 174.1 629.0)">IL2+IFNg+TNF+ %</text>
<circle cx="283.50" cy="570.60" r="2.2" fill="#1c1a1b"/>
<circle cx="283.50" cy="586.40" r="2.2" fill="#e8141c"/>
<text x="292.00" y="573.80" font-size="10.5" text-anchor="start" font-weight="normal" fill="#231f20" stroke="#231f20" stroke-width="0.25">Metastasis</text>
<text x="292.00" y="589.60" font-size="10.65" text-anchor="start" font-weight="normal" fill="#231f20" stroke="#231f20" stroke-width="0.25">Non-Metastasis</text>
<text x="366.20" y="558.20" font-size="12.5" text-anchor="start" font-weight="bold" fill="#111">h</text>
<circle cx="439.8" cy="627.4" r="59.5" fill="#9c9b9f" stroke="#231f20" stroke-width="1"/>
<path d="M457.02,651.10 L474.77,675.54 A59.5,59.5 0 1 1 439.80,567.90 L439.80,598.10 A29.3,29.3 0 1 0 457.02,651.10 Z" fill="#231f20" stroke="#231f20" stroke-width="0.6"/>
<circle cx="439.8" cy="627.4" r="29.3" fill="#fff" stroke="#231f20" stroke-width="1"/>
<circle cx="572.5" cy="627.2" r="59.4" fill="#9c9b9f" stroke="#231f20" stroke-width="1"/>
<path d="M544.54,618.11 L516.01,608.84 A59.4,59.4 0 0 1 572.50,567.80 L572.50,597.80 A29.4,29.4 0 0 0 544.54,618.11 Z" fill="#231f20" stroke="#231f20" stroke-width="0.6"/>
<circle cx="572.5" cy="627.2" r="29.4" fill="#fff" stroke="#231f20" stroke-width="1"/>
<text x="435.50" y="559.00" font-size="10.7" text-anchor="middle" font-weight="normal" fill="#231f20" stroke="#231f20" stroke-width="0.25">NC</text>
<text x="566.50" y="558.20" font-size="10.7" text-anchor="middle" font-weight="normal" fill="#231f20" stroke="#231f20" stroke-width="0.25">Cul5 KO</text>
<text x="396.00" y="634.40" font-size="10.7" text-anchor="middle" font-weight="normal" fill="#f2f2f2">60%</text>
<text x="483.70" y="623.00" font-size="10.7" text-anchor="middle" font-weight="normal" fill="#f2f2f2">40%</text>
<text x="547.80" y="595.20" font-size="10.7" text-anchor="middle" font-weight="normal" fill="#f2f2f2">20%</text>
<text x="580.00" y="675.00" font-size="10.7" text-anchor="middle" font-weight="normal" fill="#f2f2f2">80%</text>
<rect x="415.1" y="694.4" width="18.2" height="7.9" fill="#231f20"/>
<text x="437.50" y="702.30" font-size="10.45" text-anchor="start" font-weight="normal" fill="#231f20" stroke="#231f20" stroke-width="0.25">Stem-like low</text>
<rect x="515.2" y="694.4" width="18" height="7.9" fill="#9c9b9f"/>
<text x="537.40" y="702.30" font-size="10.35" text-anchor="start" font-weight="normal" fill="#231f20" stroke="#231f20" stroke-width="0.25">Stem-like high</text>
</svg></body></html>
